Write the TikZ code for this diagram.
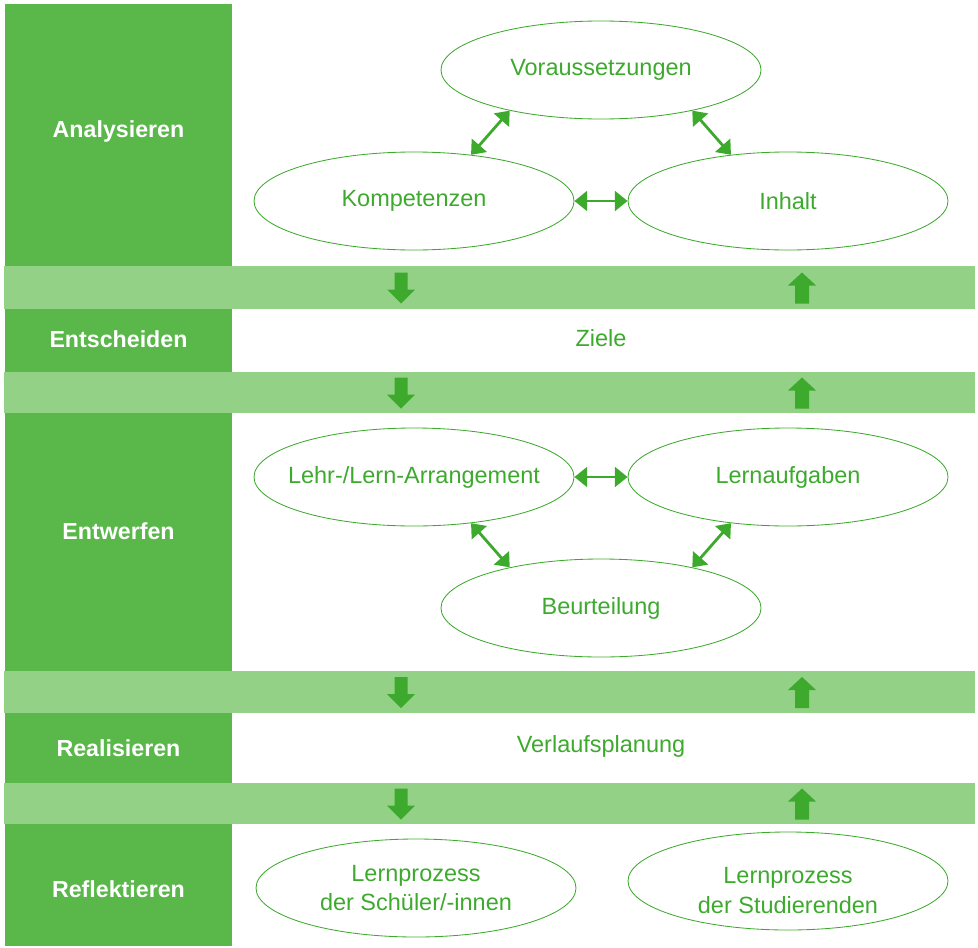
\documentclass[tikz,border=0pt]{standalone}
\usepackage{fontspec}
\setmainfont{Liberation Sans}
\usepackage{xcolor}
\usetikzlibrary{arrows.meta,shapes.geometric}
\definecolor{colgreen}{RGB}{90,183,74}
\definecolor{bandgreen}{RGB}{146,209,134}
\definecolor{linegreen}{RGB}{61,170,46}

\tikzset{
  phase/.style={text=white, font=\fontsize{16.5}{20}\selectfont\bfseries},
  oval/.style={ellipse, draw=linegreen, line width=0.6pt, minimum width=320*0.025cm, minimum height=98*0.025cm, text=linegreen, font=\fontsize{16.7}{21}\selectfont, align=center, inner sep=0pt},
  plain/.style={text=linegreen, font=\fontsize{16.7}{21}\selectfont},
  dbl/.style={draw=linegreen, line width=2pt, {Triangle[length=9pt,width=14pt]}-{Triangle[length=9pt,width=14pt]}},
  downarr/.pic={\fill[linegreen] (-6.5,-15) -- (6.5,-15) -- (6.5,2) -- (14,2) -- (0,16) -- (-14,2) -- (-6.5,2) -- cycle;},
  uparr/.pic={\fill[linegreen] (-7,16) -- (7,16) -- (7,-2) -- (14,-2) -- (0,-15) -- (-14,-2) -- (-7,-2) -- cycle;}
}

\begin{document}
\begin{tikzpicture}[x=0.025cm, y=-0.025cm]
\useasboundingbox (0,0) rectangle (978,947);
% left column and bands
\fill[colgreen] (5,4) rectangle (232,946);
\foreach \t/\b in {266/309, 372/413, 671/713, 783/824}
  \fill[bandgreen] (4,\t) rectangle (975,\b);
\foreach \y in {287.5, 392.5, 692, 803.5} {
  \pic at (401,\y) {downarr};
  \pic at (802,\y) {uparr};
}

% phase labels
\node[phase] (ana) at (118.5,131) {Analysieren};
\node[phase] (ents) at (118.5,339) {Entscheiden};
\node[phase] (entw) at (118.5,531) {Entwerfen};
\node[phase] (real) at (118.5,748) {Realisieren};
\node[phase] (refl) at (118.5,889) {Reflektieren};

% Analysieren
\node[oval] (vor) at (601,70) {Voraussetzungen};
\node[oval] (komp) at (414,201) {Kompetenzen};
\node[oval] (inh) at (788,201) {Inhalt};
\draw[dbl] (komp.39) -- (vor.204);
\draw[dbl] (vor.336) -- (inh.141);
\draw[dbl] (komp) -- (inh);

\node[plain] (ziele) at (601,338) {Ziele};

% Entwerfen
\node[oval, inner xsep=-10pt] (lehr) at (414,477) {Lehr-/Lern-Arrangement};
\node[oval] (aufg) at (788,477) {Lernaufgaben};
\node[oval] (beurt) at (601,608) {Beurteilung};
\draw[dbl] (lehr) -- (aufg);
\draw[dbl] (lehr.-39) -- (beurt.156);
\draw[dbl] (aufg.-141) -- (beurt.24);

\node[plain] (verl) at (601,746) {Verlaufsplanung};

% Reflektieren
\node[oval] (lps) at (416,888) {Lernprozess\\der Schüler/-innen};
\node[oval, text height=46pt] (lpst) at (788,881) {Lernprozess\\der Studierenden};
\end{tikzpicture}
\end{document}
